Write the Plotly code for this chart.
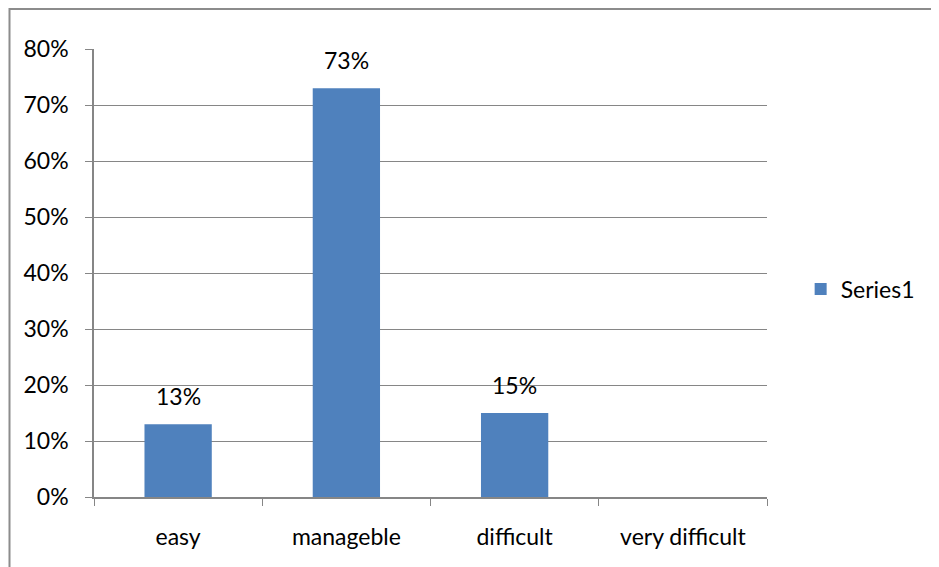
import plotly.graph_objects as go

categories = ["easy", "manageble", "difficult", "very difficult"]
values = [0.13, 0.73, 0.15, None]
series_name = "Series1"
y_ticks = [0, 0.1, 0.2, 0.3, 0.4, 0.5, 0.6, 0.7, 0.8]

FONT = "Lato, Open Sans, sans-serif"
FS = 23
GRID = "#868686"

# page is offset by the browser's 8px body margin
L, T, PW, PH = 86, 41, 673, 448

fig = go.Figure()
fig.add_trace(go.Bar(
    x=categories, y=values, name=series_name,
    marker=dict(color="#4F81BD", line=dict(width=0)),
    showlegend=True,
))

for c, v in zip(categories, values):
    if v is not None:
        fig.add_annotation(x=c, y=v, text=f"{round(v*100)}%", showarrow=False,
                           yanchor="bottom", yshift=12,
                           font=dict(family=FONT, size=FS, color="#000000"))

fig.update_layout(
    width=939, height=567,
    margin=dict(l=L, r=939 - L - PW, t=T, b=567 - T - PH),
    paper_bgcolor="white", plot_bgcolor="white",
    bargap=0.6,
    font=dict(family=FONT, size=FS, color="#000000"),
    legend=dict(x=1.05, y=0.464, xanchor="left", yanchor="middle",
                font=dict(family=FONT, size=FS), itemwidth=30,
                bgcolor="rgba(0,0,0,0)"),
    xaxis=dict(type="category", tickson="boundaries", ticks="outside", ticklen=7,
               tickcolor=GRID, showline=True, linecolor=GRID, linewidth=1.5,
               showgrid=False, ticklabelstandoff=19, fixedrange=True),
    yaxis=dict(range=[0, 0.8], tickvals=y_ticks, tickformat=".0%",
               ticks="outside", ticklen=7, tickcolor=GRID,
               showline=True, linecolor=GRID, linewidth=1.5,
               showgrid=True, gridcolor=GRID, gridwidth=1,
               zeroline=False, ticklabelstandoff=12),
    shapes=[dict(type="rect", xref="paper", yref="paper",
                 x0=(1.5 - L) / PW, x1=1.5, y0=-0.5, y1=1 + (T - 1) / PH,
                 line=dict(color="#8c8c8c", width=2), layer="below")],
)

fig.write_html("out.html")
